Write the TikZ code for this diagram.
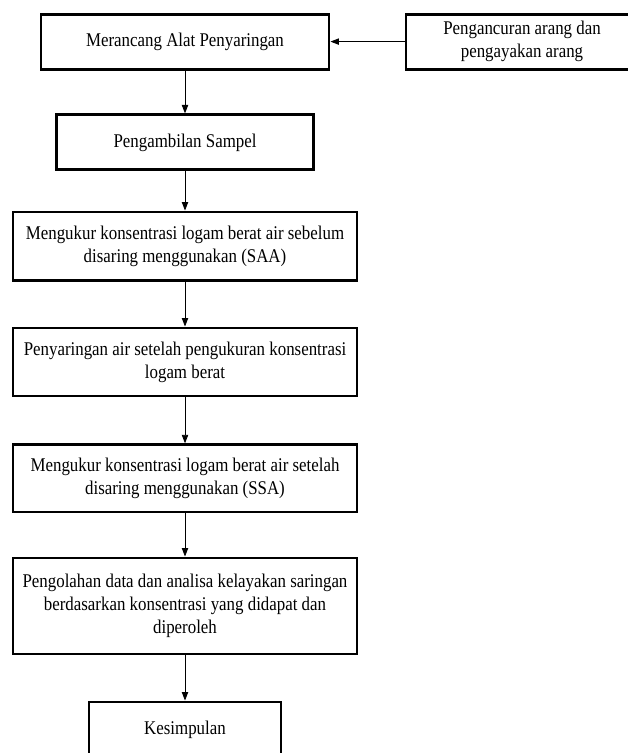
\documentclass[tikz,border=0pt]{standalone}
\usepackage{fontspec}
\setmainfont{Liberation Serif}[FakeStretch=0.87]
\usetikzlibrary{arrows.meta}
\begin{document}
\begin{tikzpicture}[font=\fontsize{13.8}{16.4}\selectfont,
  box/.style={draw, line width=2.1pt, align=center, inner sep=0pt},
  arr/.style={-{Triangle[length=6pt,width=4.5pt]}, line width=0.6pt}]
\useasboundingbox (0,0) rectangle (15.675,-18.825);
\node[box, minimum width=7.2cm, minimum height=1.375cm] (a) at (4.625,-1.04) {Merancang Alat Penyaringan};
\node[box, minimum width=5.8cm, minimum height=1.375cm] (p) at (13.05,-1.04) {Pengancuran arang dan\\pengayakan arang};
\node[box, minimum width=6.43cm, minimum height=1.375cm] (b) at (4.625,-3.56) {Pengambilan Sampel};
\node[box, minimum width=8.6cm, minimum height=1.72cm] (c) at (4.625,-6.16) {Mengukur konsentrasi logam berat air sebelum\\disaring menggunakan (SAA)};
\node[box, minimum width=8.6cm, minimum height=1.7cm] (d) at (4.625,-9.05) {Penyaringan air setelah pengukuran konsentrasi\\logam berat};
\node[box, minimum width=8.6cm, minimum height=1.68cm] (e) at (4.625,-11.96) {Mengukur konsentrasi logam berat air setelah\\disaring menggunakan (SSA)};
\node[box, minimum width=8.6cm, minimum height=2.4cm] (f) at (4.625,-15.15) {Pengolahan data dan analisa kelayakan saringan\\berdasarkan konsentrasi yang didapat dan\\diperoleh};
\node[box, minimum width=4.8cm, minimum height=1.4cm] (g) at (4.625,-18.25) {Kesimpulan};
\draw[arr] (p) -- (a);
\draw[arr] (a) -- (b);
\draw[arr] (b) -- (c);
\draw[arr] (c) -- (d);
\draw[arr] (d) -- (e);
\draw[arr] (e) -- (f);
\draw[arr] (f) -- (g);
\end{tikzpicture}
\end{document}
